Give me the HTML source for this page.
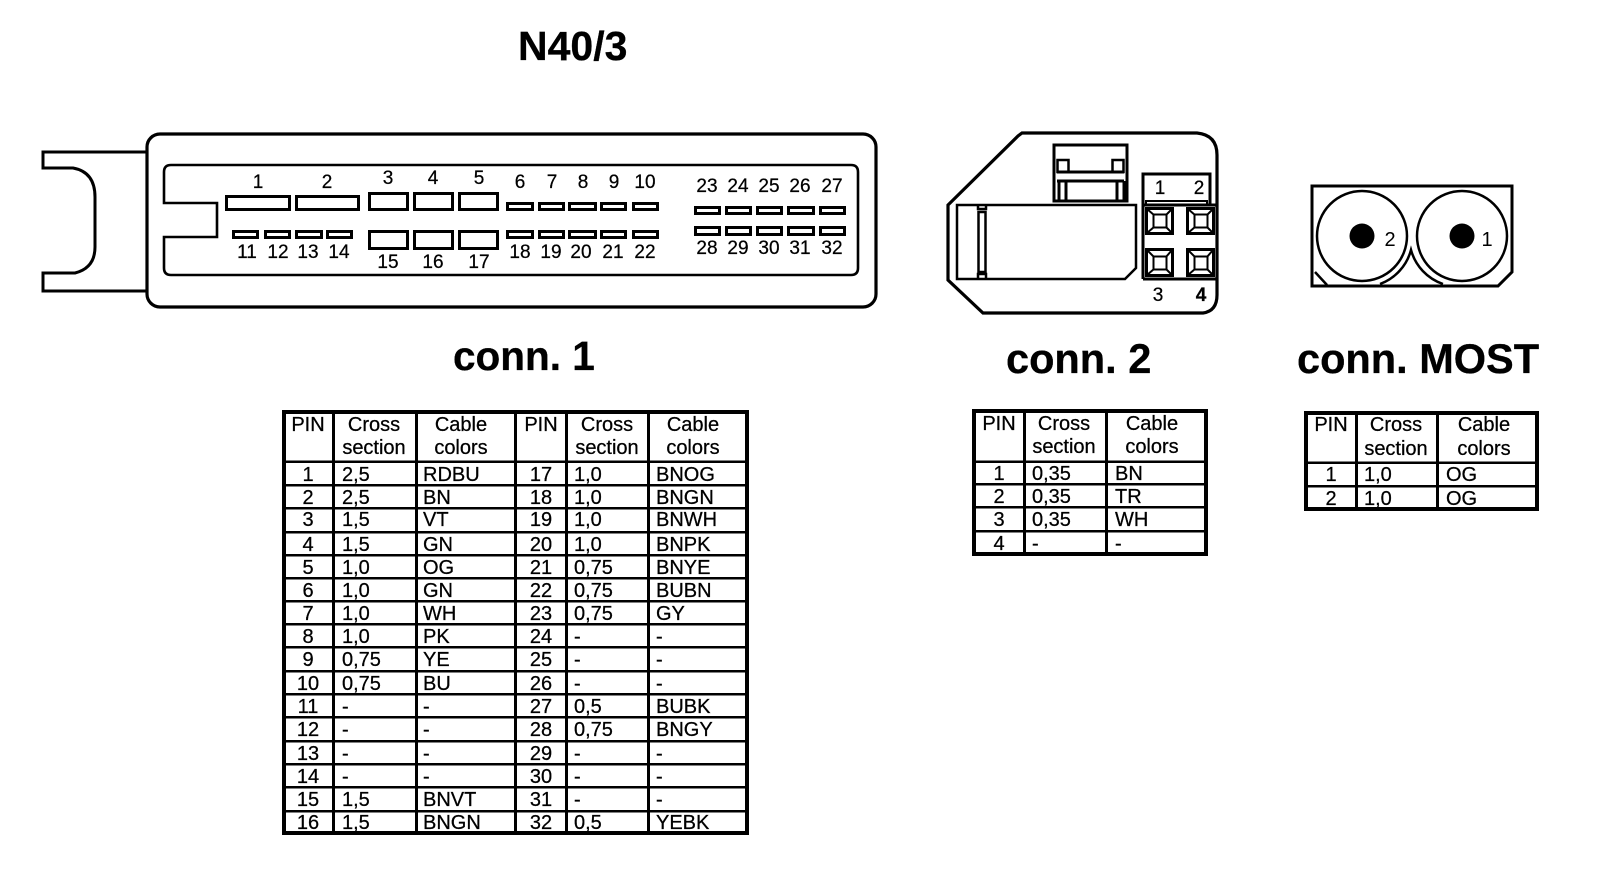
<!DOCTYPE html>
<html><head><meta charset="utf-8"><style>
html,body{margin:0;padding:0;background:#fff}
svg{display:block}
text{font-family:"Liberation Sans",sans-serif;fill:#000}
.t{font-size:41px;font-weight:bold;stroke:#000;stroke-width:.3px}
.l{font-size:19px;text-anchor:middle;stroke:#000;stroke-width:.25px}
.c{font-size:20px;stroke:#000;stroke-width:.25px}
.m{font-size:20px;text-anchor:middle;stroke:#000;stroke-width:.25px}
.g{fill:none;stroke:#000}
</style></head><body>
<svg width="1600" height="872" viewBox="0 0 1600 872" xmlns="http://www.w3.org/2000/svg">
<rect width="1600" height="872" fill="#fff"/>
<text class="t" x="518" y="60">N40/3</text>
<text class="t" x="453" y="370" style="font-size:40.500px">conn. 1</text>
<text class="t" x="1006" y="373" style="font-size:41.500px">conn. 2</text>
<text class="t" x="1297" y="373" style="font-size:41.500px">conn. MOST</text>

<!-- connector 1 -->
<path class="g" stroke-width="3" d="M147 152H43V168H73Q95 172 95 197V247Q95 268 75 273H43V291H147"/>
<rect class="g" stroke-width="3.2" x="147" y="134" width="729" height="173" rx="13"/>
<path class="g" stroke-width="2.6" d="M164 203V172Q164 165 171 165H851Q858 165 858 172V268Q858 275 851 275H171Q164 275 164 268V237H217V203Z"/>
<g class="g" stroke-width="3" shape-rendering="crispEdges">
<rect x="226.500" y="196.500" width="63" height="13"/><rect x="296.500" y="196.500" width="62" height="13"/>
<rect x="369.500" y="193.500" width="38" height="16"/><rect x="414.500" y="193.500" width="38" height="16"/><rect x="459.500" y="193.500" width="38" height="16"/>
<rect x="233.500" y="231.500" width="24" height="6"/><rect x="265.500" y="231.500" width="24" height="6"/><rect x="296.500" y="231.500" width="25" height="6"/><rect x="327.500" y="231.500" width="24" height="6"/>
<rect x="369.500" y="231.500" width="38" height="17"/><rect x="414.500" y="231.500" width="38" height="17"/><rect x="459.500" y="231.500" width="38" height="17"/>
<rect x="507.500" y="203.500" width="25" height="6"/><rect x="539.500" y="203.500" width="24" height="6"/><rect x="569.500" y="203.500" width="26" height="6"/><rect x="601.500" y="203.500" width="24" height="6"/><rect x="633.500" y="203.500" width="24" height="6"/>
<rect x="507.500" y="231.500" width="25" height="6"/><rect x="539.500" y="231.500" width="24" height="6"/><rect x="569.500" y="231.500" width="26" height="6"/><rect x="601.500" y="231.500" width="24" height="6"/><rect x="633.500" y="231.500" width="24" height="6"/>
<rect x="695.500" y="207.500" width="24" height="6"/><rect x="726.500" y="207.500" width="24" height="6"/><rect x="757.500" y="207.500" width="24" height="6"/><rect x="788.500" y="207.500" width="25" height="6"/><rect x="820.500" y="207.500" width="24" height="6"/>
<rect x="695.500" y="227.500" width="24" height="7"/><rect x="726.500" y="227.500" width="24" height="7"/><rect x="757.500" y="227.500" width="24" height="7"/><rect x="788.500" y="227.500" width="25" height="7"/><rect x="820.500" y="227.500" width="24" height="7"/>
</g>
<g>
<text class="l" x="258" y="188">1</text><text class="l" x="327" y="188">2</text>
<text class="l" x="388" y="184">3</text><text class="l" x="433" y="184">4</text><text class="l" x="479" y="184">5</text>
<text class="l" x="520" y="188">6</text><text class="l" x="552" y="188">7</text><text class="l" x="583" y="188">8</text><text class="l" x="614" y="188">9</text><text class="l" x="645" y="188">10</text>
<text class="l" x="247" y="258">11</text><text class="l" x="278" y="258">12</text><text class="l" x="308" y="258">13</text><text class="l" x="339" y="258">14</text>
<text class="l" x="388" y="268">15</text><text class="l" x="433" y="268">16</text><text class="l" x="479" y="268">17</text>
<text class="l" x="520" y="258">18</text><text class="l" x="551" y="258">19</text><text class="l" x="581" y="258">20</text><text class="l" x="613" y="258">21</text><text class="l" x="645" y="258">22</text>
<text class="l" x="707" y="192">23</text><text class="l" x="738" y="192">24</text><text class="l" x="769" y="192">25</text><text class="l" x="800" y="192">26</text><text class="l" x="832" y="192">27</text>
<text class="l" x="707" y="254">28</text><text class="l" x="738" y="254">29</text><text class="l" x="769" y="254">30</text><text class="l" x="800" y="254">31</text><text class="l" x="832" y="254">32</text>
</g>

<!-- connector 2 -->
<path class="g" stroke-width="3.2" d="M1022 133H1197Q1217 135 1217 155V295Q1217 311 1203 313H983L948 280V205L1018 136Z"/>
<g class="g" stroke-width="2.500">
<rect x="1054" y="145" width="73" height="56" stroke-width="3"/>
<rect x="1057.500" y="160" width="11" height="12" stroke-width="2.500"/><rect x="1112.500" y="160" width="11" height="12" stroke-width="2.500"/>
<path d="M1057 172H1124M1057 181H1124M1059 181V200M1066 181V200M1117 181V200M1124 181V200" stroke-width="3"/>
<path d="M957 205H1136V268L1125 279H957Z" stroke-width="2.500"/>
<path d="M978 205V209H986V205M978 279V274H986V279" stroke-width="2.500"/>
<rect x="978.500" y="212" width="7" height="60" stroke-width="2.500"/>
<path d="M1143 279V174H1210V205M1143 205H1217M1143 279H1217" stroke-width="3"/>
<path d="M1146 205V201H1207V205" stroke-width="2"/>
</g>
<g class="g" stroke-width="3">
<rect x="1146.500" y="208.500" width="26" height="25"/><rect x="1153.500" y="214.500" width="13" height="13" stroke-width="2"/><path d="M1147 209L1154 215M1172 209L1166 215M1147 233L1154 227M1172 233L1166 227" stroke-width="2"/>
<rect x="1187.500" y="208.500" width="26" height="25"/><rect x="1194.500" y="214.500" width="13" height="13" stroke-width="2"/><path d="M1188 209L1195 215M1213 209L1207 215M1188 233L1195 227M1213 233L1207 227" stroke-width="2"/>
<rect x="1146.500" y="249.500" width="26" height="26"/><rect x="1153.500" y="256.500" width="13" height="13" stroke-width="2"/><path d="M1147 250L1154 257M1172 250L1166 257M1147 275L1154 269M1172 275L1166 269" stroke-width="2"/>
<rect x="1187.500" y="249.500" width="26" height="26"/><rect x="1194.500" y="256.500" width="13" height="13" stroke-width="2"/><path d="M1188 250L1195 257M1213 250L1207 257M1188 275L1195 269M1213 275L1207 269" stroke-width="2"/>
</g>
<text class="l" x="1160" y="194">1</text><text class="l" x="1199" y="194">2</text>
<text class="l" x="1158" y="301">3</text><text class="l" x="1201" y="301" font-weight="bold">4</text>

<!-- MOST connector -->
<path class="g" stroke-width="3" d="M1312 186H1512V272L1498 286H1312Z"/>
<circle class="g" stroke-width="2.500" cx="1362" cy="236" r="45"/>
<circle class="g" stroke-width="2.500" cx="1462" cy="236" r="45"/>
<circle cx="1362" cy="236" r="12.500"/><circle cx="1462" cy="236" r="12.500"/>
<path class="g" stroke-width="2.500" d="M1380 284A50 50 0 0 0 1411 250A50 50 0 0 0 1443 284M1315 272L1327 285"/>
<text x="1390" y="246" font-size="20" text-anchor="middle">2</text>
<text x="1487" y="246" font-size="20" text-anchor="middle">1</text>

<!-- tables -->
<g stroke="#000" fill="none" shape-rendering="crispEdges">
<rect x="284" y="412" width="463" height="421" stroke-width="4"/>
<path stroke-width="3" d="M333.500 412V833M416.500 412V833M515.500 412V833M566.500 412V833M648.500 412V833"/>
<path stroke-width="2.500" d="M284 461.500H747M284 485H747M284 508H747M284 532H747M284 555H747M284 578H747M284 601H747M284 624H747M284 647H747M284 671H747M284 694H747M284 717H747M284 741H747M284 764H747M284 787H747M284 811H747"/>
<rect x="974" y="411" width="232" height="143" stroke-width="4"/>
<path stroke-width="3" d="M1024.500 411V554M1106.500 411V554"/>
<path stroke-width="2.500" d="M974 461.500H1206M974 484H1206M974 507H1206M974 531H1206"/>
<rect x="1306" y="413" width="231" height="96" stroke-width="4"/>
<path stroke-width="3" d="M1356.500 413V509M1437.500 413V509"/>
<path stroke-width="2.500" d="M1306 462.500H1537M1306 486H1537"/>
</g>

<g>
<text class="m" x="308" y="431">PIN</text><text class="m" x="374" y="431">Cross</text><text class="m" x="374" y="454">section</text><text class="m" x="461" y="431">Cable</text><text class="m" x="461" y="454">colors</text>
<text class="m" x="541" y="431">PIN</text><text class="m" x="607" y="431">Cross</text><text class="m" x="607" y="454">section</text><text class="m" x="693" y="431">Cable</text><text class="m" x="693" y="454">colors</text>

<text class="m" x="308" y="481">1</text><text class="c" x="342" y="481">2,5</text><text class="c" x="423" y="481">RDBU</text><text class="m" x="541" y="481">17</text><text class="c" x="574" y="481">1,0</text><text class="c" x="656" y="481">BNOG</text>
<text class="m" x="308" y="504">2</text><text class="c" x="342" y="504">2,5</text><text class="c" x="423" y="504">BN</text><text class="m" x="541" y="504">18</text><text class="c" x="574" y="504">1,0</text><text class="c" x="656" y="504">BNGN</text>
<text class="m" x="308" y="526">3</text><text class="c" x="342" y="526">1,5</text><text class="c" x="423" y="526">VT</text><text class="m" x="541" y="526">19</text><text class="c" x="574" y="526">1,0</text><text class="c" x="656" y="526">BNWH</text>
<text class="m" x="308" y="551">4</text><text class="c" x="342" y="551">1,5</text><text class="c" x="423" y="551">GN</text><text class="m" x="541" y="551">20</text><text class="c" x="574" y="551">1,0</text><text class="c" x="656" y="551">BNPK</text>
<text class="m" x="308" y="574">5</text><text class="c" x="342" y="574">1,0</text><text class="c" x="423" y="574">OG</text><text class="m" x="541" y="574">21</text><text class="c" x="574" y="574">0,75</text><text class="c" x="656" y="574">BNYE</text>
<text class="m" x="308" y="597">6</text><text class="c" x="342" y="597">1,0</text><text class="c" x="423" y="597">GN</text><text class="m" x="541" y="597">22</text><text class="c" x="574" y="597">0,75</text><text class="c" x="656" y="597">BUBN</text>
<text class="m" x="308" y="620">7</text><text class="c" x="342" y="620">1,0</text><text class="c" x="423" y="620">WH</text><text class="m" x="541" y="620">23</text><text class="c" x="574" y="620">0,75</text><text class="c" x="656" y="620">GY</text>
<text class="m" x="308" y="643">8</text><text class="c" x="342" y="643">1,0</text><text class="c" x="423" y="643">PK</text><text class="m" x="541" y="643">24</text><text class="c" x="574" y="643">-</text><text class="c" x="656" y="643">-</text>
<text class="m" x="308" y="666">9</text><text class="c" x="342" y="666">0,75</text><text class="c" x="423" y="666">YE</text><text class="m" x="541" y="666">25</text><text class="c" x="574" y="666">-</text><text class="c" x="656" y="666">-</text>
<text class="m" x="308" y="690">10</text><text class="c" x="342" y="690">0,75</text><text class="c" x="423" y="690">BU</text><text class="m" x="541" y="690">26</text><text class="c" x="574" y="690">-</text><text class="c" x="656" y="690">-</text>
<text class="m" x="308" y="713">11</text><text class="c" x="342" y="713">-</text><text class="c" x="423" y="713">-</text><text class="m" x="541" y="713">27</text><text class="c" x="574" y="713">0,5</text><text class="c" x="656" y="713">BUBK</text>
<text class="m" x="308" y="736">12</text><text class="c" x="342" y="736">-</text><text class="c" x="423" y="736">-</text><text class="m" x="541" y="736">28</text><text class="c" x="574" y="736">0,75</text><text class="c" x="656" y="736">BNGY</text>
<text class="m" x="308" y="760">13</text><text class="c" x="342" y="760">-</text><text class="c" x="423" y="760">-</text><text class="m" x="541" y="760">29</text><text class="c" x="574" y="760">-</text><text class="c" x="656" y="760">-</text>
<text class="m" x="308" y="783">14</text><text class="c" x="342" y="783">-</text><text class="c" x="423" y="783">-</text><text class="m" x="541" y="783">30</text><text class="c" x="574" y="783">-</text><text class="c" x="656" y="783">-</text>
<text class="m" x="308" y="806">15</text><text class="c" x="342" y="806">1,5</text><text class="c" x="423" y="806">BNVT</text><text class="m" x="541" y="806">31</text><text class="c" x="574" y="806">-</text><text class="c" x="656" y="806">-</text>
<text class="m" x="308" y="829">16</text><text class="c" x="342" y="829">1,5</text><text class="c" x="423" y="829">BNGN</text><text class="m" x="541" y="829">32</text><text class="c" x="574" y="829">0,5</text><text class="c" x="656" y="829">YEBK</text>

<text class="m" x="999" y="430">PIN</text><text class="m" x="1064" y="430">Cross</text><text class="m" x="1064" y="453">section</text><text class="m" x="1152" y="430">Cable</text><text class="m" x="1152" y="453">colors</text>
<text class="m" x="999" y="480">1</text><text class="c" x="1032" y="480">0,35</text><text class="c" x="1115" y="480">BN</text>
<text class="m" x="999" y="503">2</text><text class="c" x="1032" y="503">0,35</text><text class="c" x="1115" y="503">TR</text>
<text class="m" x="999" y="526">3</text><text class="c" x="1032" y="526">0,35</text><text class="c" x="1115" y="526">WH</text>
<text class="m" x="999" y="550">4</text><text class="c" x="1032" y="550">-</text><text class="c" x="1115" y="550">-</text>

<text class="m" x="1331" y="431">PIN</text><text class="m" x="1396" y="431">Cross</text><text class="m" x="1396" y="455">section</text><text class="m" x="1484" y="431">Cable</text><text class="m" x="1484" y="455">colors</text>
<text class="m" x="1331" y="481">1</text><text class="c" x="1364" y="481">1,0</text><text class="c" x="1446" y="481">OG</text>
<text class="m" x="1331" y="505">2</text><text class="c" x="1364" y="505">1,0</text><text class="c" x="1446" y="505">OG</text>
</g>
</svg>
</body></html>
